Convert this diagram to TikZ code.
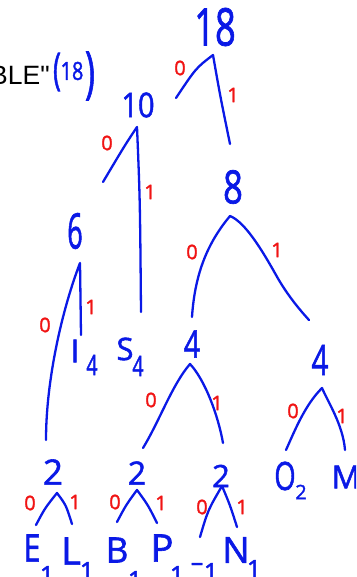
\documentclass[tikz,border=0pt]{standalone}
\usepackage{fontspec}
\newfontfamily\hand[FakeBold=1.6]{Open Sans}
\newfontfamily\arialf{Liberation Sans}
\definecolor{hb}{RGB}{10,25,230}
\definecolor{hr}{RGB}{240,20,20}
\tikzset{
 hw/.style={text=hb, inner sep=0pt, font=\hand\fontsize{#1}{#1}\selectfont},
 lab/.style={text=hr, inner sep=0pt, font=\hand\fontsize{20}{20}\selectfont},
 edge/.style={draw=hb, line width=2.3pt, line cap=round, line join=round},
}
\begin{document}
\begin{tikzpicture}[x=1pt,y=-1pt]
\useasboundingbox (0,0) rectangle (356,577);
\clip (0,0) rectangle (356,577);
% title
\node[anchor=base west, inner sep=0pt, font=\arialf\fontsize{26.5}{26.5}\selectfont] (title) at (-10,85) {BLE"};
\node[hw=44, xscale=0.6] (pl) at (57,72) {(};
\node[hw=25, xscale=0.8] (n18b) at (72,71) {18};
\node[hw=56, xscale=0.6] (pr) at (90,76) {)};
% numbers
\node[hw=52, xscale=0.7] (n18) at (215,27) {18};
\node[hw=34, xscale=0.85] (n10) at (138,105) {10};
\node[hw=46, xscale=0.75] (n8) at (233,187) {8};
\node[hw=49, xscale=0.55] (n6) at (75,231) {6};
\node[hw=38, xscale=0.75] (n4l) at (192,344) {4};
\node[hw=42, xscale=0.7] (n4r) at (320,360) {4};
\node[hw=35] (n2a) at (53,472) {2};
\node[hw=32] (n2b) at (137,473) {2};
\node[hw=31] (n2c) at (221,476) {2};
% leaves
\node[hw=32] (lI) at (75,351) {I};
\node[hw=28, xscale=0.7] (lI4) at (92,365) {4};
\node[hw=31] (lS) at (125,349) {S};
\node[hw=28, xscale=0.7] (lS4) at (138,366) {4};
\node[hw=39, xscale=0.7] (lO) at (285,476) {O};
\node[hw=20] (lO2) at (301,492) {2};
\node[hw=32] (lM) at (346,477) {M};
\node[hw=38, xscale=0.8] (lE) at (32,548) {E};
\node[hw=25] (lE1) at (47,575) {1};
\node[hw=38] (lL) at (71,551) {L};
\node[hw=25] (lL1) at (87,571) {1};
\node[hw=35] (lB) at (117,550) {B};
\node[hw=25] (lB1) at (135,580) {1};
\node[hw=38] (lP) at (162,548) {P};
\node[hw=25] (lP1) at (177,575) {1};
\node[hw=25] (lsp) at (197,567) {–};
\node[hw=25] (lsp1) at (211,572) {1};
\node[hw=36] (lN) at (236,550) {N};
\node[hw=25] (lN1) at (254,569) {1};
% red labels
\node[lab] (r18a) at (180,68) {0};
\node[lab] (r18b) at (233,95) {1};
\node[lab] (r10a) at (107,143) {0};
\node[lab] (r10b) at (150,192) {1};
\node[lab] (r6a) at (45,325) {0};
\node[lab] (r6b) at (91,307) {1};
\node[lab] (r8a) at (192,252) {0};
\node[lab] (r8b) at (277,250) {1};
\node[lab] (r4la) at (151,400) {0};
\node[lab] (r4lb) at (217,403) {1};
\node[lab] (r4ra) at (293,411) {0};
\node[lab] (r4rb) at (342,416) {1};
\node[lab] (r2aa) at (30,503) {0};
\node[lab] (r2ab) at (75,502) {1};
\node[lab] (r2ba) at (115,502) {0};
\node[lab] (r2bb) at (161,503) {1};
\node[lab] (r2ca) at (202,507) {0};
\node[lab] (r2cb) at (242,507) {1};
% edge coordinates
\coordinate (a18) at (213,55);
\coordinate (e18l) at (176,98);
\coordinate (e18r) at (230,144);
\coordinate (a10) at (137,127);
\coordinate (e10l) at (103,182);
\coordinate (e10r) at (141,312);
\coordinate (a6) at (80,263);
\coordinate (e6l) at (46,440);
\coordinate (e6r) at (81,335);
\coordinate (a8) at (230,216);
\coordinate (e8l) at (192,317);
\coordinate (e8r) at (309,320);
\coordinate (a4l) at (190,364);
\coordinate (e4ll) at (143,448);
\coordinate (e4lr) at (223,443);
\coordinate (a4r) at (322,388);
\coordinate (e4rl) at (286,450);
\coordinate (e4rr) at (345,450);
\coordinate (a2a) at (57,493);
\coordinate (e2al) at (36,525);
\coordinate (e2ar) at (72,524);
\coordinate (a2b) at (137,490);
\coordinate (e2bl) at (117,522);
\coordinate (e2br) at (157,523);
\coordinate (a2c) at (222,486);
\coordinate (e2cl) at (200,537);
\coordinate (e2cr) at (237,527);
% edges
\draw[edge] (e18l) .. controls (196,68) .. (a18) .. controls (220,95) .. (e18r);
\draw[edge] (e10l) .. controls (125,145) .. (a10) .. controls (140,200) .. (e10r);
\draw[edge] (e6l) .. controls (46,380) and (62,310) .. (a6) -- (e6r);
\draw[edge] (e8l) .. controls (195,270) and (210,240) .. (a8)
  .. controls (245,222) and (262,250) .. (276,275)
  .. controls (286,293) and (298,308) .. (e8r);
\draw[edge] (e4ll) .. controls (160,420) and (172,385) .. (a4l)
  .. controls (205,380) and (218,415) .. (e4lr);
\draw[edge] (e4rl) .. controls (295,430) and (305,405) .. (a4r)
  .. controls (328,402) and (343,425) .. (e4rr);
\draw[edge] (e2al) .. controls (45,508) .. (a2a) .. controls (66,505) .. (e2ar);
\draw[edge] (e2bl) .. controls (126,505) .. (a2b) .. controls (148,505) .. (e2br);
\draw[edge] (e2cl) .. controls (208,510) .. (a2c) .. controls (230,505) .. (e2cr);
\end{tikzpicture}
\end{document}
